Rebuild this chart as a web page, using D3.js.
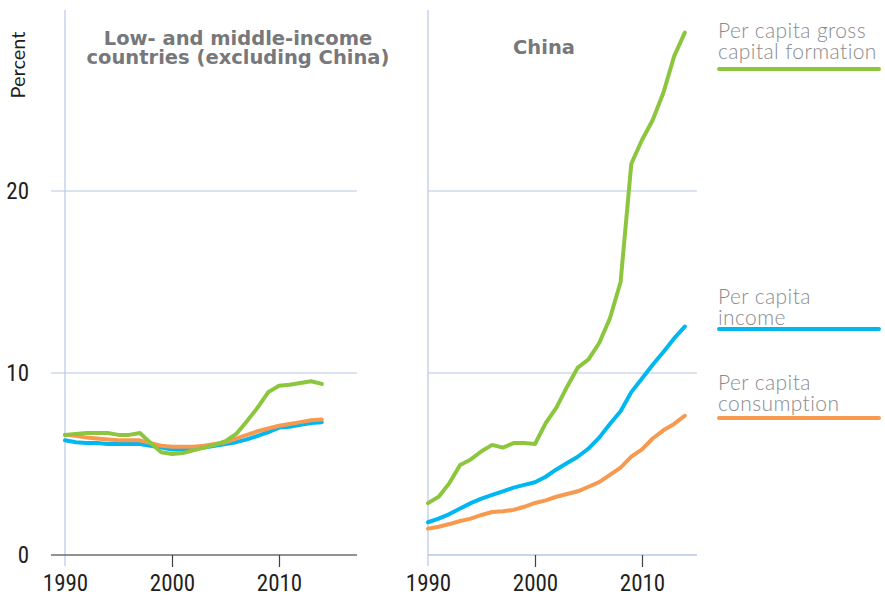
<!DOCTYPE html>
<html>
<head>
<meta charset="utf-8">
<script src="https://cdn.jsdelivr.net/npm/d3@7"></script>
<style>
  body { margin: 0; background: #fff; }
  svg { display: block; }
  .tick-lbl { font-family: "Liberation Sans Narrow", "Arial Narrow", "Roboto Condensed", sans-serif; font-stretch: condensed; font-size: 23px; fill: #231f20; }
  .panel-title { font-family: "DejaVu Sans", sans-serif; font-weight: bold; font-size: 19.5px; fill: #77787b; }
  .legend-lbl { font-family: Lato, "Open Sans", sans-serif; font-weight: 300; font-size: 21px; letter-spacing: 0.4px; fill: #8a8b8e; }
</style>
</head>
<body>
<svg width="885" height="603"></svg>
<script>
const years = d3.range(1990, 2015)

// low- and middle-income countries (excluding China)
const lmicCapital = [6.6, 6.65, 6.7, 6.7, 6.7, 6.6, 6.6, 6.7, 6.15, 5.65, 5.55, 5.6, 5.75, 5.9, 6.05, 6.25, 6.65, 7.35, 8.1, 8.95, 9.3, 9.35, 9.45, 9.55, 9.4]
const lmicIncome = [6.3, 6.2, 6.15, 6.15, 6.1, 6.1, 6.1, 6.1, 6.0, 5.9, 5.8, 5.8, 5.85, 5.9, 6.0, 6.1, 6.2, 6.35, 6.55, 6.75, 7.0, 7.05, 7.15, 7.25, 7.3]
const lmicConsumption = [6.6, 6.55, 6.45, 6.4, 6.35, 6.3, 6.3, 6.3, 6.15, 6.0, 5.95, 5.95, 5.95, 6.0, 6.1, 6.2, 6.4, 6.6, 6.8, 6.95, 7.1, 7.2, 7.3, 7.4, 7.45]

// China
const chinaCapital = [2.85, 3.2, 3.95, 4.95, 5.25, 5.7, 6.05, 5.9, 6.15, 6.15, 6.1, 7.25, 8.1, 9.25, 10.3, 10.75, 11.65, 13.0, 15.0, 21.5, 22.8, 23.9, 25.4, 27.4, 28.7]
const chinaIncome = [1.8, 2.0, 2.25, 2.55, 2.85, 3.1, 3.3, 3.5, 3.7, 3.85, 4.0, 4.3, 4.7, 5.05, 5.4, 5.85, 6.45, 7.2, 7.9, 8.95, 9.7, 10.45, 11.15, 11.9, 12.55]
const chinaConsumption = [1.45, 1.55, 1.7, 1.87, 2.0, 2.2, 2.36, 2.4, 2.48, 2.65, 2.86, 3.0, 3.2, 3.35, 3.5, 3.75, 4.0, 4.4, 4.8, 5.4, 5.8, 6.4, 6.85, 7.2, 7.65]

const seriesNames = ["Per capita gross capital formation", "Per capita income", "Per capita consumption"]
const seriesColors = ["#8cc63f", "#00b7ef", "#f7994f"]
const yTicks = [0, 10, 20]
const xTicks = [1990, 2000, 2010]

const svg = d3.select("svg")

const y = d3.scaleLinear().domain([0, 20]).range([555, 191])

const panels = [
    { title: ["Low- and middle-income", "countries (excluding China)"], titleX: 238,
      series: [lmicIncome, lmicConsumption, lmicCapital], order: [1, 2, 0],
      x: d3.scaleLinear().domain([1990, 2010]).range([65, 279]), left: 51, right: 357, baseColor: "#6d6e71" },
    { title: ["China"], titleX: 544,
      series: [chinaCapital, chinaIncome, chinaConsumption], order: [0, 1, 2],
      x: d3.scaleLinear().domain([1990, 2010]).range([428, 642]), left: 428, right: 697, baseColor: "#b7c8e3" }
]

panels.forEach(p => {
    const x0 = p.x(1990)
    const g = svg.append("g")

    // gridlines
    g.selectAll("line.grid")
        .data([10, 20])
        .enter()
        .append("line")
        .attr("x1", p.left)
        .attr("x2", p.right)
        .attr("y1", d => y(d))
        .attr("y2", d => y(d))
        .attr("stroke", "#b7c8e3")
        .attr("stroke-width", 1.2)

    // vertical axis
    g.append("line")
        .attr("x1", x0).attr("x2", x0)
        .attr("y1", 10).attr("y2", 566)
        .attr("stroke", "#b7c8e3")
        .attr("stroke-width", 1.2)

    // baseline
    g.append("line")
        .attr("x1", p.left)
        .attr("x2", p.right)
        .attr("y1", y(0)).attr("y2", y(0))
        .attr("stroke", p.baseColor)
        .attr("stroke-width", 1.4)

    // x axis ticks + labels
    const xAxis = d3.axisBottom(p.x)
        .tickValues(xTicks)
        .tickSize(12)
        .tickFormat(d3.format("d"))
    const ax = g.append("g")
        .attr("transform", `translate(0,${y(0)})`)
        .call(xAxis)
    ax.select(".domain").remove()
    ax.selectAll(".tick line")
        .attr("stroke", d => d === 1990 ? "none" : "#414042")
        .attr("stroke-width", 1.2)
    ax.selectAll(".tick text")
        .attr("class", "tick-lbl")
        .attr("y", 20)
        .attr("dy", "0.71em")

    // panel title
    g.selectAll("text.panel-title")
        .data(p.title)
        .enter()
        .append("text")
        .attr("class", "panel-title")
        .attr("x", p.titleX)
        .attr("y", (d, i) => 45 + i * 19 + (p.title.length === 1 ? 9 : 0))
        .attr("text-anchor", "middle")
        .text(d => d)

    // lines
    const line = d3.line()
        .x((d, i) => p.x(years[i]))
        .y(d => y(d))

    p.order.forEach((k, j) => {
        g.append("path")
            .datum(p.series[j])
            .attr("fill", "none")
            .attr("stroke", seriesColors[k])
            .attr("stroke-width", 4)
            .attr("stroke-linejoin", "round")
            .attr("stroke-linecap", "round")
            .attr("d", line)
    })
})

// y axis labels
const yAxis = d3.axisLeft(y)
    .tickValues(yTicks)
    .tickSize(0)
    .tickFormat(d3.format("d"))
const yAx = svg.append("g")
    .attr("transform", "translate(29,0)")
    .call(yAxis)
yAx.select(".domain").remove()
yAx.selectAll(".tick text")
    .attr("class", "tick-lbl")
    .attr("x", 0)
    .attr("dy", "0.32em")

svg.append("text")
    .attr("class", "legend-lbl")
    .attr("transform", "translate(25,65) rotate(-90)")
    .attr("text-anchor", "middle")
    .style("font-size", "20px")
    .style("letter-spacing", "0px")
    .style("fill", "#231f20")
    .style("font-weight", 400)
    .text("Percent")

// legend (right side)
const legend = [
    { lines: ["Per capita gross", "capital formation"], top: 38, lineY: 69 },
    { lines: ["Per capita", "income"], top: 304, lineY: 329 },
    { lines: ["Per capita", "consumption"], top: 390, lineY: 418 }
]

legend.forEach((l, i) => {
    const lg = svg.append("g")
    lg.selectAll("text")
        .data(l.lines)
        .enter()
        .append("text")
        .attr("class", "legend-lbl")
        .attr("x", 718)
        .attr("y", (d, j) => l.top + j * 21)
        .text(d => d)
    lg.append("line")
        .attr("x1", 719).attr("x2", 879)
        .attr("y1", l.lineY).attr("y2", l.lineY)
        .attr("stroke", seriesColors[i])
        .attr("stroke-width", 4)
        .attr("stroke-linecap", "round")
})
</script>
</body>
</html>
